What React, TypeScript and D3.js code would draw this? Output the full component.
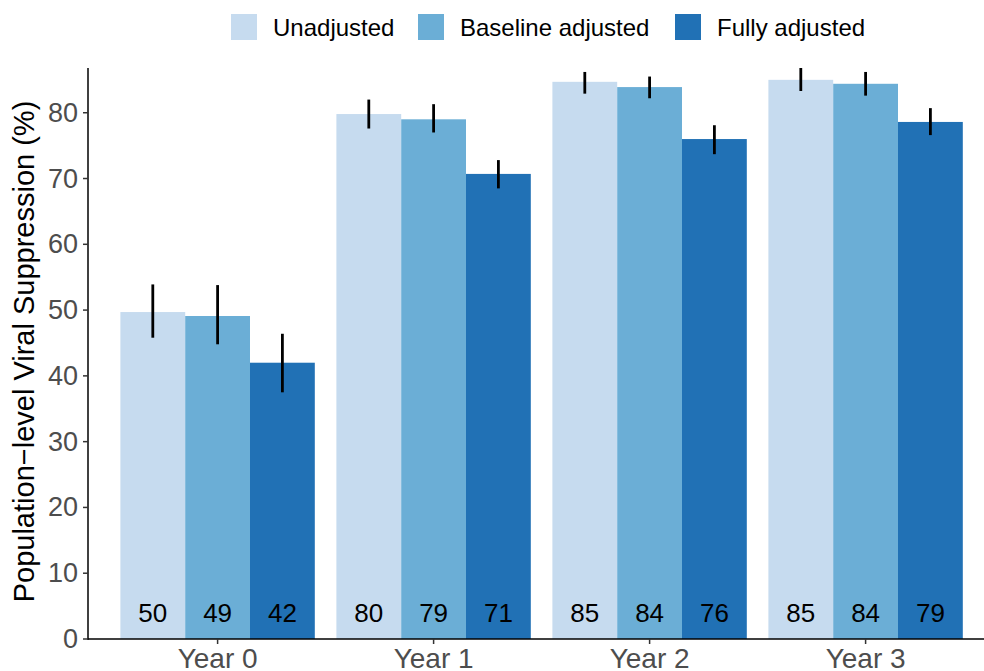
import React, { useEffect } from "react";
import * as d3 from "d3";

const years = ["Year 0", "Year 1", "Year 2", "Year 3"];
const seriesNames = ["Unadjusted", "Baseline adjusted", "Fully adjusted"];
const seriesColors = ["#c6dbef", "#6baed6", "#2171b5"];

const unadjusted = [49.7, 79.8, 84.7, 85.0];
const baselineAdjusted = [49.1, 79.0, 83.9, 84.4];
const fullyAdjusted = [42.0, 70.7, 76.0, 78.6];

const unadjustedLow = [45.8, 77.6, 82.9, 83.3];
const unadjustedHigh = [53.9, 82.0, 86.2, 86.8];
const baselineLow = [44.8, 77.0, 82.2, 82.6];
const baselineHigh = [53.8, 81.3, 85.5, 86.2];
const fullyLow = [37.5, 68.5, 73.7, 76.6];
const fullyHigh = [46.4, 72.8, 78.1, 80.7];

const yTicks = [0, 10, 20, 30, 40, 50, 60, 70, 80];

const series = [
  { values: unadjusted, low: unadjustedLow, high: unadjustedHigh },
  { values: baselineAdjusted, low: baselineLow, high: baselineHigh },
  { values: fullyAdjusted, low: fullyLow, high: fullyHigh },
];

const W = 984;
const H = 671;
const FONT = "'Liberation Sans', Arial, Helvetica, sans-serif";

export default function App() {
  useEffect(() => {
    document.body.style.margin = "0";
  }, []);

  const x = d3.scaleLinear().domain([0.4, 4.6]).range([88, 88 + 4.2 * 216]);
  const y = d3.scaleLinear().domain([0, 86.8]).range([639, 68]);
  const dodge = 0.9;
  const barW = dodge / 3;

  const legendKeys = [231, 418, 675];

  return (
    <svg width={W} height={H} style={{ display: "block" }} fontFamily={FONT}>
      <rect x={0} y={0} width={W} height={H} fill="#fff" />
      {series.map((s, si) =>
        s.values.map((v, gi) => {
          const cx = gi + 1 - dodge / 2 + barW * si + barW / 2;
          const x0 = x(cx - barW / 2);
          const x1 = x(cx + barW / 2);
          return (
            <rect
              key={`b${si}-${gi}`}
              x={x0}
              y={y(v)}
              width={x1 - x0}
              height={y(0) - y(v)}
              fill={seriesColors[si]}
            />
          );
        })
      )}
      {series.map((s, si) =>
        s.values.map((v, gi) => {
          const cx = gi + 1 - dodge / 2 + barW * si + barW / 2;
          return (
            <line
              key={`e${si}-${gi}`}
              x1={x(cx)}
              x2={x(cx)}
              y1={y(s.low[gi])}
              y2={y(s.high[gi])}
              stroke="#000"
              strokeWidth={2.8}
            />
          );
        })
      )}
      {series.map((s, si) =>
        s.values.map((v, gi) => {
          const cx = gi + 1 - dodge / 2 + barW * si + barW / 2;
          return (
            <text
              key={`t${si}-${gi}`}
              x={x(cx)}
              y={y(4)}
              textAnchor="middle"
              dominantBaseline="central"
              fontSize={26}
              fill="#000"
            >
              {Math.round(v)}
            </text>
          );
        })
      )}
      <line x1={88} x2={88} y1={68} y2={639.75} stroke="#000" strokeWidth={1.5} />
      <line x1={87.25} x2={W} y1={639} y2={639} stroke="#000" strokeWidth={1.5} />
      {yTicks.map((t) => (
        <g key={`yt${t}`}>
          <line x1={83} x2={88} y1={y(t)} y2={y(t)} stroke="#333" strokeWidth={1.5} />
          <text
            x={78}
            y={y(t)}
            textAnchor="end"
            dominantBaseline="central"
            fontSize={27}
            fill="#4d4d4d"
          >
            {t}
          </text>
        </g>
      ))}
      {years.map((yr, i) => (
        <g key={`xt${i}`}>
          <line x1={x(i + 1)} x2={x(i + 1)} y1={639} y2={644} stroke="#333" strokeWidth={1.5} />
          <text x={x(i + 1)} y={668} textAnchor="middle" fontSize={28} fill="#4d4d4d">
            {yr}
          </text>
        </g>
      ))}
      <text
        transform={`translate(34, ${(68 + 639) / 2 - 2}) rotate(-90)`}
        textAnchor="middle"
        fontSize={29}
        fill="#000"
      >
        Population−level Viral Suppression (%)
      </text>
      {seriesNames.map((n, i) => (
        <g key={`lg${i}`}>
          <rect x={legendKeys[i]} y={14} width={26} height={26} fill={seriesColors[i]} />
          <text
            x={legendKeys[i] + 42}
            y={27}
            dominantBaseline="central"
            fontSize={24}
            fill="#000"
          >
            {n}
          </text>
        </g>
      ))}
    </svg>
  );
}
